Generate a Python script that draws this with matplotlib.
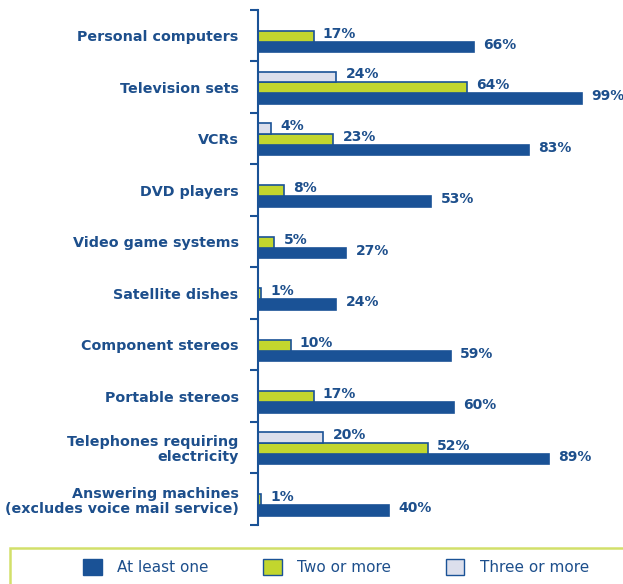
import matplotlib.pyplot as plt
from matplotlib.patches import Patch, Rectangle
import numpy as np

categories = [
    "Personal computers", "Television sets", "VCRs", "DVD players",
    "Video game systems", "Satellite dishes", "Component stereos",
    "Portable stereos", "Telephones requiring\nelectricity",
    "Answering machines\n(excludes voice mail service)",
]
at_least_one = [66, 99, 83, 53, 27, 24, 59, 60, 89, 40]
two_or_more = [17, 64, 23, 8, 5, 1, 10, 17, 52, 1]
three_or_more = [None, 24, 4, None, None, None, None, None, 20, None]

navy = "#1a5296"
green = "#c2d62e"
grey = "#dcdfec"
txt = "#1d4f8c"

fig = plt.figure(figsize=(6.23, 5.84), dpi=100)
ax = fig.add_axes([258 / 623, 1 - 525 / 584, 1 - 258 / 623, 515 / 584])

y = np.arange(len(categories))
h = 0.21
series = [(at_least_one, navy, 0.22), (two_or_more, green, 0.01), (three_or_more, grey, -0.20)]
for vals, col, off in series:
    for i, v in enumerate(vals):
        if v is None:
            continue
        ax.barh(y[i] + off, v, height=h, color=col, edgecolor=navy, linewidth=1.2)
        ax.text(v + 2.8, y[i] + off - 0.05, f"{v}%", va="center", ha="left",
                fontsize=10, fontweight="bold", color=txt)

ax.set_xlim(0, 111.6)
ax.set_ylim(len(categories) - 0.5, -0.5)
ax.set_yticks(y)
ax.set_yticklabels(categories, fontsize=10.3, fontweight="bold", color=txt,
                   ha="right", linespacing=1.1)
ax.tick_params(axis="y", which="major", length=0, pad=14)
ax.set_yticks(np.arange(-0.5, len(categories)), minor=True)
ax.tick_params(axis="y", which="minor", length=6, width=1.5, color=navy)
ax.set_xticks([])
for s in ["top", "right", "bottom"]:
    ax.spines[s].set_visible(False)
ax.spines["left"].set_color(navy)
ax.spines["left"].set_linewidth(1.5)

# legend box
fig.patches.append(Rectangle((10 / 623, -0.01), 1.0, (584 - 548) / 584 + 0.01,
                             transform=fig.transFigure, fill=False,
                             edgecolor="#d2e06a", linewidth=1.8))
handles = [Patch(facecolor=navy, edgecolor=navy, label="At least one"),
           Patch(facecolor=green, edgecolor=navy, label="Two or more"),
           Patch(facecolor=grey, edgecolor=navy, label="Three or more")]
leg = fig.legend(handles=handles, loc="center", bbox_to_anchor=(336 / 623, 1 - 567 / 584),
                 ncol=3, frameon=False, fontsize=11, handlelength=1.2, handleheight=1.2,
                 columnspacing=3.6, handletextpad=1.0)
for t in leg.get_texts():
    t.set_color(txt)

fig.savefig("out.png", dpi=100)
